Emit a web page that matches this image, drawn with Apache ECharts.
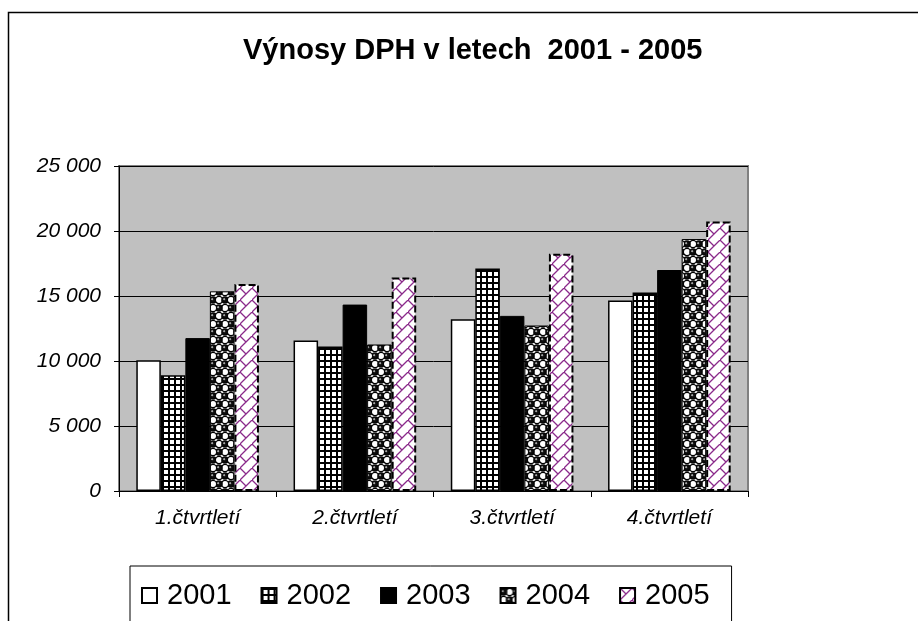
<!DOCTYPE html>
<html>
<head>
<meta charset="utf-8">
<script src="https://cdn.jsdelivr.net/npm/echarts@6/dist/echarts.min.js"></script>
<style>
  html, body { margin: 0; padding: 0; background: #fff; }
  #main { width: 918px; height: 621px; }
</style>
</head>
<body>
<div id="main"></div>
<script>
var categories = ['1.čtvrtletí', '2.čtvrtletí', '3.čtvrtletí', '4.čtvrtletí'];
var years = ['2001', '2002', '2003', '2004', '2005'];
var v2001 = [10050, 11580, 13210, 14650];
var v2002 = [8900, 11120, 17120, 15260];
var v2003 = [11760, 14340, 13470, 17000];
var v2004 = [15360, 11270, 12730, 19380];
var v2005 = [15930, 16430, 18250, 20730];
var yTicks = [0, 5000, 10000, 15000, 20000, 25000];

var FONT = 'Liberation Sans, Arial, sans-serif';

function tile(w, h, draw) {
    var c = document.createElement('canvas');
    c.width = w; c.height = h;
    var ctx = c.getContext('2d');
    ctx.fillStyle = '#fff';
    ctx.fillRect(0, 0, w, h);
    draw(ctx);
    return { image: c, repeat: 'repeat' };
}

// small grid (2002)
var gridPat = tile(6, 6, function (ctx) {
    ctx.fillStyle = '#000';
    ctx.fillRect(0, 0, 6, 2);
    ctx.fillRect(0, 0, 2, 6);
});

// balls on checker (2004)
var ballPat = tile(12, 16, function (ctx) {
    function ball(x, y) {
        var g = ctx.createRadialGradient(x - 1, y - 1, 0.3, x, y, 3.8);
        g.addColorStop(0, '#ddd');
        g.addColorStop(0.3, '#111');
        g.addColorStop(1, '#000');
        ctx.fillStyle = g;
        ctx.beginPath(); ctx.arc(x, y, 3.8, 0, Math.PI * 2); ctx.fill();
    }
    function ring(x, y) {
        ctx.strokeStyle = '#000';
        ctx.lineWidth = 1.2;
        ctx.beginPath(); ctx.arc(x, y, 3.6, 0, Math.PI * 2); ctx.stroke();
    }
    ring(9, 4); ring(3, 12);
    ball(3, 4); ball(9, 12);
});

// purple diagonal bricks (2005)
var brickPat = tile(12, 12, function (ctx) {
    ctx.strokeStyle = '#8a2a8a';
    ctx.lineWidth = 1.3;
    ctx.beginPath();
    ctx.moveTo(-1, 13); ctx.lineTo(13, -1);
    ctx.moveTo(0, 0); ctx.lineTo(6, 6);
    ctx.stroke();
});

var chartDom = document.getElementById('main');
var myChart = echarts.init(chartDom);

var barBase = { type: 'bar', barGap: '0%', barCategoryGap: '22%' };

var option = {
    animation: false,
    backgroundColor: '#fff',
    title: {
        text: 'Výnosy DPH v letech  2001 - 2005',
        left: 243,
        top: 36,
        padding: 0,
        textStyle: { fontFamily: FONT, fontSize: 29, fontWeight: 'bold', color: '#000' }
    },
    graphic: [{
        type: 'rect',
        shape: { x: 8.5, y: 12.5, width: 1000, height: 1000 },
        style: { fill: null, stroke: '#000', lineWidth: 1.5 },
        silent: true
    }],
    legend: {
        data: years,
        left: 130,
        top: 566,
        padding: [15, 22, 40, 11],
        borderColor: '#000',
        borderWidth: 1,
        itemWidth: 15,
        itemHeight: 15,
        itemGap: 29,
        icon: 'rect',
        textStyle: { fontFamily: FONT, fontSize: 29, color: '#000', padding: [0, 0, 0, 5] }
    },
    grid: {
        show: true,
        left: 119,
        top: 166,
        width: 629,
        height: 325,
        backgroundColor: '#c0c0c0',
        borderColor: '#808080',
        borderWidth: 2
    },
    xAxis: {
        type: 'category',
        data: categories,
        axisLine: { lineStyle: { color: '#000', width: 1 } },
        axisTick: { show: true, length: 6, lineStyle: { color: '#000' } },
        axisLabel: { margin: 17, fontFamily: FONT, fontSize: 21, fontStyle: 'italic', color: '#000' }
    },
    yAxis: {
        type: 'value',
        min: yTicks[0],
        max: yTicks[yTicks.length - 1],
        interval: yTicks[1] - yTicks[0],
        axisLine: { show: true, lineStyle: { color: '#000', width: 1 } },
        axisTick: { show: true, length: 5, lineStyle: { color: '#000' } },
        splitLine: { lineStyle: { color: '#000', width: 1 } },
        axisLabel: {
            margin: 18,
            fontFamily: FONT, fontSize: 21, fontStyle: 'italic', color: '#000',
            formatter: function (v) {
                return String(v).replace(/\B(?=(\d{3})+(?!\d))/g, ' ');
            }
        }
    },
    series: [
        Object.assign({}, barBase, {
            name: years[0], data: v2001,
            itemStyle: { color: '#fff', borderColor: '#000', borderWidth: 1.5 }
        }),
        Object.assign({}, barBase, {
            name: years[1], data: v2002,
            itemStyle: { color: gridPat, borderColor: '#000', borderWidth: 1.5 }
        }),
        Object.assign({}, barBase, {
            name: years[2], data: v2003,
            itemStyle: { color: '#000', borderColor: '#000', borderWidth: 1 }
        }),
        Object.assign({}, barBase, {
            name: years[3], data: v2004,
            itemStyle: { color: ballPat, borderColor: '#000', borderWidth: 1 }
        }),
        Object.assign({}, barBase, {
            name: years[4], data: v2005,
            itemStyle: { color: brickPat, borderColor: '#000', borderWidth: 2, borderType: [7, 3] }
        })
    ]
};

myChart.setOption(option);
</script>
</body>
</html>
